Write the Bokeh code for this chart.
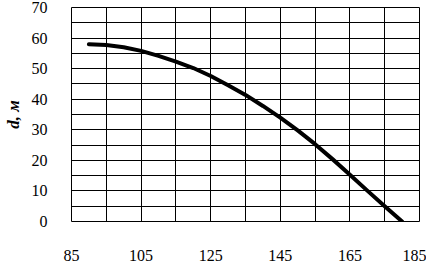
from bokeh.plotting import figure
from bokeh.models import Range1d, FixedTicker
from bokeh.embed import file_html
from bokeh.resources import INLINE

# Data
flow = [90, 95, 100, 105, 110, 115, 120, 125, 130, 135, 140, 145, 150, 155, 160, 165, 170, 175, 180]
depth = [58.0, 57.7, 57.0, 55.8, 54.2, 52.3, 50.2, 47.6, 44.6, 41.4, 37.8, 34.0, 29.8, 25.3, 20.4, 15.3, 10.1, 5.0, 0.0]

x_ticks = [85, 105, 125, 145, 165, 185]
y_ticks = [0, 10, 20, 30, 40, 50, 60, 70]
x_grid = [85, 95, 105, 115, 125, 135, 145, 155, 165, 175, 185]
y_grid = [0, 5, 10, 15, 20, 25, 30, 35, 40, 45, 50, 55, 60, 65, 70]

p = figure(frame_width=348, frame_height=214, output_backend="svg", toolbar_location=None,
           x_range=Range1d(85, 185), y_range=Range1d(0, 70),
           min_border_left=62, min_border_right=7, min_border_top=7, min_border_bottom=40)
p.background_fill_color = "white"
p.border_fill_color = "white"
p.outline_line_color = "black"

p.line(flow, depth, line_width=4, line_color="black", line_cap="round", line_join="round")

for ax in (p.xaxis[0], p.yaxis[0]):
    ax.axis_line_color = None
    ax.major_tick_line_color = None
    ax.minor_tick_line_color = None
    ax.major_label_text_font = "Liberation Serif"
    ax.major_label_text_font_size = "16px"
    ax.major_label_text_color = "black"

p.xaxis[0].ticker = FixedTicker(ticks=x_ticks)
p.yaxis[0].ticker = FixedTicker(ticks=y_ticks)
p.xaxis[0].major_label_standoff = 22
p.yaxis[0].major_label_standoff = 18

p.yaxis[0].axis_label = "d, м"
p.yaxis[0].axis_label_text_font = "Liberation Serif"
p.yaxis[0].axis_label_text_font_style = "bold italic"
p.yaxis[0].axis_label_text_font_size = "17px"
p.yaxis[0].axis_label_text_color = "black"
p.yaxis[0].axis_label_standoff = 6

p.xgrid[0].ticker = FixedTicker(ticks=x_grid)
p.ygrid[0].ticker = FixedTicker(ticks=y_grid)
for g in (p.xgrid[0], p.ygrid[0]):
    g.grid_line_color = "black"
    g.grid_line_alpha = 1.0
    g.grid_line_width = 1

open("out.html", "w").write(file_html(p, INLINE))
